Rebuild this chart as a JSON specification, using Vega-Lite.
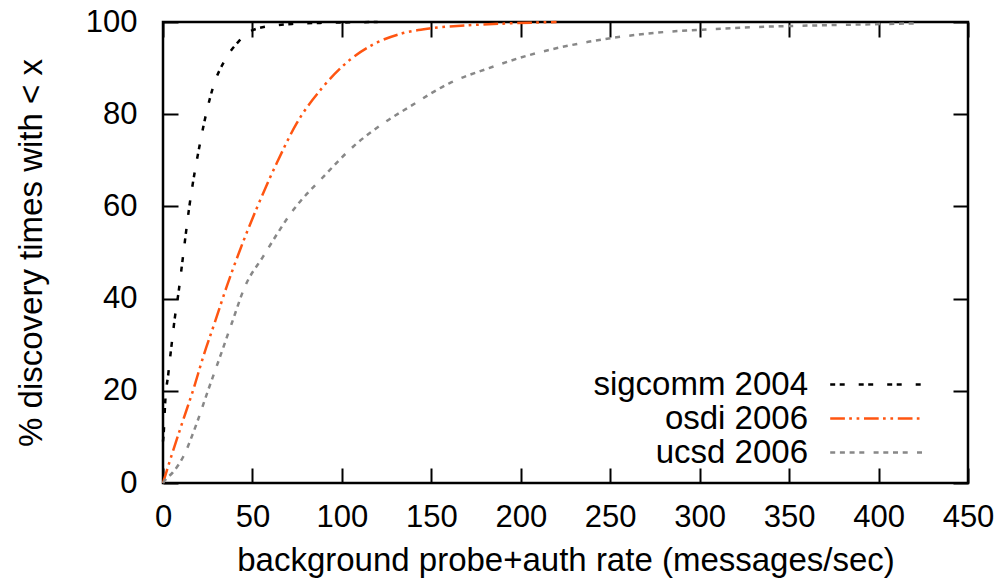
{
  "$schema": "https://vega.github.io/schema/vega-lite/v6.json",
  "width": 805,
  "height": 461,
  "autosize": {"type": "none"},
  "padding": {"left": 163, "top": 22, "right": 33, "bottom": 101},
  "background": "white",
  "config": {
    "view": {"stroke": "black", "strokeWidth": 2.5},
    "font": "Liberation Sans",
    "axis": {
      "grid": false, "domain": false, "tickColor": "black", "tickWidth": 2, "tickSize": -15,
      "labelFont": "Liberation Sans", "labelFontSize": 31, "labelColor": "black",
      "titleFont": "Liberation Sans", "titleFontSize": 33, "titleFontWeight": "normal", "titleColor": "black",
      "labelFlush": false, "labelOverlap": false
    }
  },
  "data": {"values": [
    {"series": "sigcomm 2004", "x": 0, "y": 9},
    {"series": "sigcomm 2004", "x": 0.6, "y": 12.2},
    {"series": "sigcomm 2004", "x": 1.1, "y": 16.6},
    {"series": "sigcomm 2004", "x": 3, "y": 23.8},
    {"series": "sigcomm 2004", "x": 4.9, "y": 30.3},
    {"series": "sigcomm 2004", "x": 6.7, "y": 36.1},
    {"series": "sigcomm 2004", "x": 8.6, "y": 41.1},
    {"series": "sigcomm 2004", "x": 11.3, "y": 49.5},
    {"series": "sigcomm 2004", "x": 14.7, "y": 59.9},
    {"series": "sigcomm 2004", "x": 20.7, "y": 73.7},
    {"series": "sigcomm 2004", "x": 28.1, "y": 86},
    {"series": "sigcomm 2004", "x": 34.7, "y": 91.8},
    {"series": "sigcomm 2004", "x": 42.1, "y": 95.7},
    {"series": "sigcomm 2004", "x": 50.5, "y": 98.3},
    {"series": "sigcomm 2004", "x": 61.7, "y": 99.2},
    {"series": "sigcomm 2004", "x": 72.7, "y": 99.6},
    {"series": "sigcomm 2004", "x": 87.8, "y": 99.8},
    {"series": "sigcomm 2004", "x": 120, "y": 100},
    {"series": "osdi 2006", "x": 0, "y": 0},
    {"series": "osdi 2006", "x": 1.1, "y": 1.4},
    {"series": "osdi 2006", "x": 5.8, "y": 7.2},
    {"series": "osdi 2006", "x": 11.3, "y": 13.7},
    {"series": "osdi 2006", "x": 16.9, "y": 20.2},
    {"series": "osdi 2006", "x": 22.5, "y": 27.4},
    {"series": "osdi 2006", "x": 29.1, "y": 35},
    {"series": "osdi 2006", "x": 35.6, "y": 42.6},
    {"series": "osdi 2006", "x": 43, "y": 50.5},
    {"series": "osdi 2006", "x": 52.4, "y": 59.6},
    {"series": "osdi 2006", "x": 63.6, "y": 69.4},
    {"series": "osdi 2006", "x": 74.7, "y": 78},
    {"series": "osdi 2006", "x": 89.6, "y": 86},
    {"series": "osdi 2006", "x": 104.5, "y": 91.8},
    {"series": "osdi 2006", "x": 119.4, "y": 95.5},
    {"series": "osdi 2006", "x": 132.5, "y": 97.4},
    {"series": "osdi 2006", "x": 148.9, "y": 98.6},
    {"series": "osdi 2006", "x": 171.1, "y": 99.3},
    {"series": "osdi 2006", "x": 193.3, "y": 99.7},
    {"series": "osdi 2006", "x": 220, "y": 100},
    {"series": "ucsd 2006", "x": 0, "y": 0},
    {"series": "ucsd 2006", "x": 1.1, "y": 0.6},
    {"series": "ucsd 2006", "x": 5.5, "y": 2.3},
    {"series": "ucsd 2006", "x": 11.3, "y": 5.7},
    {"series": "ucsd 2006", "x": 18.8, "y": 12.9},
    {"series": "ucsd 2006", "x": 25.3, "y": 20.2},
    {"series": "ucsd 2006", "x": 31.9, "y": 27.4},
    {"series": "ucsd 2006", "x": 38.4, "y": 34.6},
    {"series": "ucsd 2006", "x": 45.8, "y": 42.6},
    {"series": "ucsd 2006", "x": 56.1, "y": 49.2},
    {"series": "ucsd 2006", "x": 72.8, "y": 59.2},
    {"series": "ucsd 2006", "x": 89.6, "y": 66.4},
    {"series": "ucsd 2006", "x": 106.4, "y": 73},
    {"series": "ucsd 2006", "x": 123.1, "y": 78},
    {"series": "ucsd 2006", "x": 137.8, "y": 81.6},
    {"series": "ucsd 2006", "x": 160, "y": 86.7},
    {"series": "ucsd 2006", "x": 182.2, "y": 90},
    {"series": "ucsd 2006", "x": 204.5, "y": 92.8},
    {"series": "ucsd 2006", "x": 237.8, "y": 95.7},
    {"series": "ucsd 2006", "x": 271, "y": 97.5},
    {"series": "ucsd 2006", "x": 304.4, "y": 98.4},
    {"series": "ucsd 2006", "x": 337.7, "y": 99},
    {"series": "ucsd 2006", "x": 371, "y": 99.3},
    {"series": "ucsd 2006", "x": 420, "y": 99.7}
  ]},
  "layer": [
    {
      "mark": {"type": "line", "interpolate": "monotone", "strokeWidth": 2.5},
      "encoding": {
        "x": {"field": "x", "type": "quantitative", "scale": {"domain": [0, 450], "nice": false},
              "axis": {"orient": "bottom", "values": [0, 50, 100, 150, 200, 250, 300, 350, 400, 450], "labelPadding": 34, "title": "background probe+auth rate (messages/sec)", "titlePadding": 12}},
        "y": {"field": "y", "type": "quantitative", "scale": {"domain": [0, 100], "nice": false},
              "axis": {"orient": "left", "values": [0, 20, 40, 60, 80, 100], "labelPadding": 41, "title": "% discovery times with < x", "titlePadding": 37}},
        "color": {"field": "series", "type": "nominal",
                  "scale": {"domain": ["sigcomm 2004", "osdi 2006", "ucsd 2006"], "range": ["#000000", "#ff5511", "#888888"]},
                  "legend": {"title": null, "orient": "none", "legendX": 697.5, "legendY": 346, "symbolType": "M-7.8,0H7.8", "symbolSize": 144, "symbolStrokeWidth": 2.5, "labelFontSize": 33, "labelFont": "Liberation Sans", "labelColor": "black", "labelAlign": "right", "labelOffset": -85.5, "rowPadding": 0, "labelLimit": 0}},
        "strokeDash": {"field": "series", "type": "nominal",
                  "scale": {"domain": ["sigcomm 2004", "osdi 2006", "ucsd 2006"], "range": [[5, 4.5, 5, 14], [14.7, 4.3, 2.7, 4.7, 2.7, 4.7], [5, 4.7, 5, 4.7, 5, 4.7, 5, 9.3]]},
                  "legend": {"title": null, "orient": "none", "legendX": 697.5, "legendY": 346, "symbolType": "M-7.8,0H7.8", "symbolSize": 144, "symbolStrokeWidth": 2.5, "labelFontSize": 33, "labelFont": "Liberation Sans", "labelColor": "black", "labelAlign": "right", "labelOffset": -85.5, "rowPadding": 0, "labelLimit": 0}}
      }
    },
    {
      "mark": {"type": "line", "opacity": 0},
      "encoding": {
        "x": {"field": "x", "type": "quantitative", "axis": {"orient": "top", "values": [0, 50, 100, 150, 200, 250, 300, 350, 400, 450], "labels": false, "title": null}},
        "y": {"field": "y", "type": "quantitative", "axis": {"orient": "right", "values": [0, 20, 40, 60, 80, 100], "labels": false, "title": null}},
        "detail": {"field": "series"}
      }
    }
  ],
  "resolve": {"axis": {"x": "independent", "y": "independent"}}
}
